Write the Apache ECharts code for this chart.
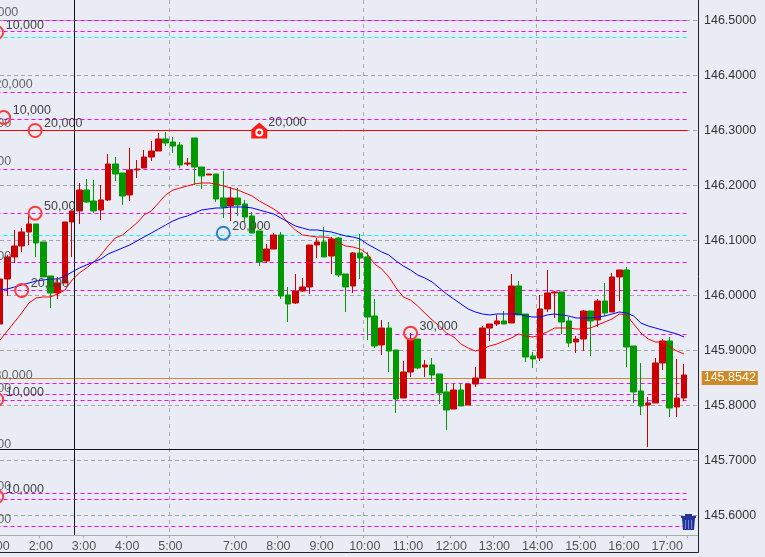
<!DOCTYPE html>
<html>
<head>
<meta charset="utf-8">
<title>chart</title>
<style>
html,body{margin:0;padding:0;background:#e9ecf4;overflow:hidden;}
#kline{width:765px;height:557px;}
</style>
<script src="https://cdn.jsdelivr.net/npm/echarts@6/dist/echarts.min.js"></script>
</head>
<body>
<div id="kline"></div>
<script>
// 10 minute bars
var categories = [
'1:00','1:10','1:20','1:30','1:40','1:50','2:00','2:10','2:20','2:30','2:40','2:50',
'3:00','3:10','3:20','3:30','3:40','3:50','4:00','4:10','4:20','4:30','4:40','4:50',
'5:00','5:10','5:20','5:30','5:40','5:50','6:10','6:20','6:30',
'7:00','7:10','7:20','7:30','7:40','7:50','8:00','8:10','8:20','8:30','8:40','8:50',
'9:00','9:10','9:20','9:30','9:40','9:50','10:00','10:10','10:20','10:30','10:40','10:50',
'11:00','11:10','11:20','11:30','11:40','11:50','12:00','12:10','12:20','12:30','12:40','12:50',
'13:00','13:10','13:20','13:30','13:40','13:50','14:00','14:10','14:20','14:30','14:40','14:50',
'15:00','15:10','15:20','15:30','15:40','15:50','16:00','16:10','16:20','16:30','16:40','16:50',
'17:00','17:10','17:20'];
var gridHours = ['5:00','10:00','14:00'];

var opens = [145.9482,146.0300,146.0701,146.0900,146.1155,146.1300,146.0973,146.0355,146.0046,146.0227,146.1337,146.1537,
146.1918,146.1718,146.1555,146.1737,146.2391,146.2228,146.1828,146.2282,146.2318,146.2518,146.2627,146.2846,
146.2791,146.2736,146.2391,146.2864,146.2336,146.2191,146.2209,146.1773,146.1627,146.1773,146.1664,146.1446,
146.1173,146.0628,146.0845,146.1100,146.0009,145.9864,146.0082,146.0155,146.0918,146.0973,146.0718,146.1045,
146.0391,146.0173,146.0773,146.0701,145.9627,145.9100,145.9409,145.9009,145.8137,145.8609,145.9209,145.8700,
145.8737,145.8573,145.8246,145.7936,145.8282,145.8009,145.8391,145.8500,145.9409,145.9482,145.9537,145.9500,
146.0173,145.9664,145.8900,145.8864,145.9755,146.0046,146.0064,145.9537,145.9155,145.9209,145.9718,145.9555,
145.9900,145.9700,146.0337,146.0464,145.9082,145.8264,145.8009,145.8046,145.8773,145.9173,145.7973,145.8137];
var closes = [146.0300,146.0701,146.0900,146.1155,146.1300,146.0955,146.0337,146.0046,146.0227,146.1337,146.1537,146.1918,
146.1700,146.1537,146.1737,146.2391,146.2209,146.1809,146.2282,146.2300,146.2518,146.2627,146.2846,146.2773,
146.2718,146.2373,146.2409,146.2336,146.2173,146.2209,146.1755,146.1609,146.1773,146.1646,146.1428,146.1136,
146.0610,146.0845,146.1100,145.9991,145.9846,146.0082,146.0155,146.0918,146.0973,146.0701,146.1027,146.0373,
146.0155,146.0773,146.0682,145.9609,145.9082,145.9409,145.8991,145.8118,145.8609,145.9209,145.8682,145.8737,
145.8555,145.8228,145.7918,145.8282,145.7991,145.8391,145.8500,145.9409,145.9482,145.9537,145.9482,146.0173,
145.9646,145.8882,145.8846,145.9755,146.0046,146.0064,145.9518,145.9136,145.9209,145.9718,145.9537,145.9900,
145.9682,146.0337,146.0464,145.9064,145.8246,145.7991,145.8046,145.8773,145.9173,145.7955,145.8137,145.8555];
var lows = [145.9482,145.9991,146.0591,146.0791,146.0918,146.0701,146.0337,145.9773,145.9937,146.0227,146.0701,146.1300,
146.1682,146.1500,146.1373,146.1718,146.2082,146.1646,146.1718,146.2136,146.2318,146.2446,146.2627,146.2718,
146.2591,146.2318,146.2355,146.2009,146.1937,146.2191,146.1700,146.1409,146.1355,146.1446,146.1337,146.1136,
146.0536,146.0591,146.0845,145.9937,145.9518,145.9846,146.0064,146.0028,146.0682,146.0701,146.0391,146.0337,
145.9700,146.0046,146.0300,145.9191,145.9046,145.8918,145.8609,145.7864,145.8137,145.8518,145.8664,145.8518,
145.8446,145.8027,145.7555,145.7936,145.7991,145.8009,145.8337,145.8500,145.9173,145.9446,145.9482,145.9500,
145.9646,145.8791,145.8682,145.8809,145.9700,145.9591,145.9300,145.9064,145.8955,145.8991,145.8900,145.9428,
145.9627,145.9700,145.9900,145.8700,145.8046,145.7827,145.7246,145.8046,145.8646,145.7791,145.7791,145.8082];
var highs = [146.0300,146.0737,146.1191,146.1227,146.1464,146.1300,146.0973,146.0355,146.0337,146.1337,146.1537,146.2046,
146.2118,146.2100,146.2009,146.2573,146.2518,146.2228,146.2682,146.2464,146.2646,146.2809,146.2955,146.2973,
146.2882,146.2791,146.2500,146.2864,146.2336,146.2209,146.2209,146.2264,146.1973,146.1955,146.1737,146.1518,
146.1173,146.0936,146.1136,146.1155,146.0155,146.0391,146.0318,146.0918,146.1045,146.1246,146.1064,146.1064,
146.0391,146.0791,146.1118,146.0791,145.9937,145.9555,145.9518,145.9009,145.8809,145.9318,145.9209,145.8827,
145.8864,145.8573,145.8391,145.8391,145.8391,145.8391,145.8700,145.9446,145.9482,145.9646,145.9718,146.0391,
146.0264,145.9664,145.8973,146.0009,146.0464,146.0082,146.0064,145.9609,145.9264,145.9737,145.9718,145.9937,
146.0227,146.0409,146.0464,146.0518,145.9082,145.8773,145.8155,145.8864,145.9209,145.9246,145.8846,145.8755];

var fastMa = [145.9191,145.9355,145.9518,145.9682,145.9864,145.9955,145.9973,145.9973,146.0028,146.0100,146.0282,146.0409,
146.0500,146.0610,146.0737,146.0900,146.1045,146.1100,146.1209,146.1318,146.1464,146.1537,146.1682,146.1828,
146.1918,146.1955,146.1991,146.2028,146.2046,146.2046,146.2028,146.1991,146.1955,146.1918,146.1864,146.1809,
146.1718,146.1646,146.1573,146.1482,146.1318,146.1191,146.1100,146.1082,146.1064,146.1064,146.1045,146.0955,
146.0900,146.0882,146.0845,146.0755,146.0573,146.0482,146.0337,146.0137,145.9973,145.9918,145.9809,145.9682,
145.9555,145.9446,145.9318,145.9246,145.9118,145.9046,145.8991,145.9028,145.9082,145.9118,145.9173,145.9227,
145.9300,145.9264,145.9246,145.9282,145.9337,145.9409,145.9409,145.9409,145.9391,145.9391,145.9409,145.9464,
145.9518,145.9573,145.9664,145.9646,145.9482,145.9318,145.9209,145.9155,145.9155,145.9064,145.8991,145.8937];
var slowMa = [146.0100,146.0118,146.0155,146.0191,146.0227,146.0264,146.0282,146.0300,146.0300,146.0355,146.0427,146.0500,
146.0555,146.0610,146.0664,146.0755,146.0809,146.0864,146.0918,146.0991,146.1064,146.1136,146.1209,146.1282,
146.1355,146.1409,146.1446,146.1500,146.1555,146.1573,146.1591,146.1591,146.1609,146.1609,146.1609,146.1591,
146.1555,146.1518,146.1482,146.1409,146.1337,146.1264,146.1227,146.1191,146.1191,146.1173,146.1155,146.1118,
146.1082,146.1064,146.1027,146.0936,146.0864,146.0791,146.0737,146.0628,146.0536,146.0464,146.0373,146.0318,
146.0246,146.0137,146.0028,145.9937,145.9846,145.9755,145.9700,145.9664,145.9646,145.9664,145.9664,145.9664,
145.9664,145.9627,145.9609,145.9609,145.9646,145.9664,145.9646,145.9627,145.9591,145.9591,145.9591,145.9609,
145.9627,145.9664,145.9700,145.9682,145.9627,145.9500,145.9446,145.9409,145.9373,145.9337,145.9300,145.9246];

var priceTicks = [146.5,146.4,146.3,146.2,146.1,146.0,145.9,145.8,145.7,145.6];
var axisTop = 146.53727;
var axisBottom = 145.56454;

// order levels
var magentaLevels = [146.5018,146.4782,146.3709,146.3236,146.2309,146.1491,146.0582,146.0091,145.9309,145.8436,145.8164,145.8109,145.7164,145.64,145.6345,145.58];
var cyanLevels = [146.4673,146.1127];
var redLevels = [146.30];
var lastPrice = 145.8545;
var lastPriceText = '145.8542';

// order marks
var sellCats = [0,1,5,5,3,57,0,0];
var sellPrices = [146.4782,146.3236,146.30,146.1496,146.0091,145.9315,145.8109,145.6345];
var sellTexts = ['10,000','10,000','20,000','50,000','20,000','30,000','10,000','10,000'];
var sellNudges = [-3.4,-3.6,-1,-1,0,0,-3.4,-3.4];
var buyCats = [31];
var buyPrices = [146.1133];
var buyTexts = ['20,000'];
var buyNudges = [0];
var alertCats = [36];
var alertPrices = [146.30];
var alertTexts = ['20,000'];
// labels of orders lying left of the visible window
var edgeCats = [1,3,0,0,3,0,0,0,0,0];
var edgePrices = [146.5145,146.3836,146.2436,146.0709,145.8551,145.8309,145.7291,145.6527,145.5927,146.3127];
var edgeTexts = ['10,000','20,000','10,000','10,000','30,000','10,000','10,000','10,000','10,000','10,000'];
var crossX = 74.5;
var crossPrice = 145.7182;

var textFont = {fontFamily:'"Liberation Sans"',fontSize:12.5};

function isHour(name){
    return /:00$/.test(name);
}
function pairs(a,b){
    return a.map(function(v,i){return [v,b[i]];});
}
function circleSeries(cats,prices,texts,nudges,color){
    return {
        type:'scatter',xAxisIndex:0,yAxisIndex:0,z:6,clip:false,silent:true,
        symbol:'circle',symbolSize:13,
        itemStyle:{color:'rgba(0,0,0,0)',borderColor:color,borderWidth:2,opacity:1},
        label:{show:true,position:'inside',align:'left',verticalAlign:'middle',offset:[9,-7],
            color:'#444',fontFamily:textFont.fontFamily,fontSize:textFont.fontSize,
            formatter:function(p){return texts[p.dataIndex];}},
        data:pairs(cats,prices).map(function(pt,i){
            return {value:pt,symbolOffset:[nudges[i],0]};
        })
    };
}
function levelLines(list,color,type){
    return list.map(function(v){
        return {yAxis:v,lineStyle:{color:color,type:type,width:1},label:{show:false}};
    });
}

function drawChart(){
    var chart = echarts.init(document.getElementById('kline'),null,{renderer:'canvas'});
    var candles = opens.map(function(o,i){return [o,closes[i],lows[i],highs[i]];});
    var lastLine = {yAxis:lastPrice,lineStyle:{color:'#cc8a33',type:'solid',width:1},
        label:{show:true,position:'end',distance:14,formatter:lastPriceText,color:'#fff',
            backgroundColor:'#d08a25',padding:[1,2,0,2],
            fontFamily:textFont.fontFamily,fontSize:textFont.fontSize}};
    var option = {
        animation:false,
        backgroundColor:'#e9ecf4',
        grid:[
            {left:-3.5,top:0,width:691.2,height:535,outerBoundsMode:'none'},
            {left:0,top:0,width:698,height:535,outerBoundsMode:'none'}
        ],
        xAxis:[
            {
                type:'category',gridIndex:0,data:categories,min:0,max:95,
                axisLine:{show:false},
                axisTick:{show:true,length:3,lineStyle:{color:'#aaa'},
                    interval:function(i,name){return isHour(name);}},
                axisLabel:{show:true,margin:5,color:'#555',padding:[0,5,0,0],
                    fontFamily:textFont.fontFamily,fontSize:textFont.fontSize,hideOverlap:false,
                    interval:function(i,name){return isHour(name);}},
                splitLine:{show:true,showMaxLine:false,lineStyle:{color:'#aaa',type:[4,4],width:1},
                    interval:function(i,name){return gridHours.indexOf(name)>=0;}}
            },
            {
                type:'value',gridIndex:1,min:0,max:698,
                axisLine:{show:true,lineStyle:{color:'#aaa',width:1}},
                axisTick:{show:false},axisLabel:{show:false},splitLine:{show:false}
            }
        ],
        yAxis:[
            {type:'value',gridIndex:0,min:axisBottom,max:axisTop,show:false,scale:true},
            {
                type:'value',gridIndex:1,min:axisBottom,max:axisTop,position:'right',scale:true,
                axisLine:{show:false},
                axisTick:{show:false,customValues:priceTicks},
                axisLabel:{show:true,margin:6,color:'#333',customValues:priceTicks,
                    fontFamily:textFont.fontFamily,fontSize:textFont.fontSize,
                    formatter:function(v){return v.toFixed(4);}},
                splitLine:{show:true,showMinLine:true,showMaxLine:true,lineStyle:{color:'#a5a5a5',type:[4,3],width:1}}
            }
        ],
        series:[
            {
                type:'candlestick',xAxisIndex:0,yAxisIndex:0,z:3,silent:true,barWidth:6,
                itemStyle:{color:'#cc0000',color0:'#009900',borderColor:'#cc0000',borderColor0:'#009900',borderWidth:1},
                data:candles,
                markLine:{
                    silent:true,symbol:'none',z:1,animation:false,
                    data:levelLines(magentaLevels,'#ff00ff',[4,3])
                        .concat(levelLines(cyanLevels,'#00ffff',[4,3]))
                        .concat(levelLines(redLevels,'#ff0000','solid'))
                        .concat([lastLine])
                }
            },
            {type:'line',xAxisIndex:0,yAxisIndex:0,z:4,silent:true,symbol:'none',data:fastMa,lineStyle:{color:'#ff0000',width:1}},
            {type:'line',xAxisIndex:0,yAxisIndex:0,z:4,silent:true,symbol:'none',data:slowMa,lineStyle:{color:'#0000ff',width:1}},
            circleSeries(sellCats,sellPrices,sellTexts,sellNudges,'#ff3b3b'),
            circleSeries(buyCats,buyPrices,buyTexts,buyNudges,'#2a80d2'),
            {
                type:'scatter',xAxisIndex:0,yAxisIndex:0,z:6,clip:false,silent:true,
                symbol:'path://M8 0 L16 7 V16 H0 V7 Z',symbolSize:[16,16],
                itemStyle:{color:'#ff1a1a',opacity:1},
                label:{show:true,position:'inside',align:'left',verticalAlign:'middle',offset:[9,-8],
                    color:'#444',fontFamily:textFont.fontFamily,fontSize:textFont.fontSize,
                    formatter:function(p){return alertTexts[p.dataIndex];}},
                data:pairs(alertCats,alertPrices)
            },
            {
                type:'scatter',xAxisIndex:0,yAxisIndex:0,z:7,clip:false,silent:true,
                symbol:'circle',symbolSize:6,symbolOffset:[0,2],
                itemStyle:{color:'#ff1a1a',borderColor:'#fff',borderWidth:2,opacity:1},
                data:pairs(alertCats,alertPrices)
            },
            {
                type:'scatter',xAxisIndex:0,yAxisIndex:0,z:5,clip:false,silent:true,
                symbol:'circle',symbolSize:1,
                itemStyle:{color:'rgba(0,0,0,0)'},
                label:{show:true,position:'inside',align:'right',verticalAlign:'middle',offset:[11,0],
                    color:'#444',fontFamily:textFont.fontFamily,fontSize:textFont.fontSize,
                    formatter:function(p){return edgeTexts[p.dataIndex];}},
                data:pairs(edgeCats,edgePrices)
            },
            {
                type:'line',xAxisIndex:1,yAxisIndex:1,z:8,silent:true,symbol:'none',data:[],
                markLine:{
                    silent:true,symbol:'none',z:8,animation:false,label:{show:false},
                    lineStyle:{color:'#111',type:'solid',width:1},
                    data:[{xAxis:crossX},{yAxis:crossPrice}]
                }
            }
        ],
        graphic:[
            {type:'polyline',silent:true,z:20,shape:{points:[[698.5,0],[698.5,552.5],[0,552.5]]},style:{stroke:'#222',lineWidth:1,fill:null}},
            // trash can
            {type:'rect',silent:true,z:20,shape:{x:681,y:516,width:15,height:2},style:{fill:'#26339a'}},
            {type:'rect',silent:true,z:20,shape:{x:685,y:514,width:7,height:2},style:{fill:'#26339a'}},
            {type:'polygon',silent:true,z:20,shape:{points:[[682,518],[695,518],[694,530],[683,530]]},style:{fill:'#26339a'}},
            {type:'rect',silent:true,z:21,shape:{x:685,y:520,width:1,height:9},style:{fill:'#7688de'}},
            {type:'rect',silent:true,z:21,shape:{x:688,y:520,width:1,height:9},style:{fill:'#7688de'}},
            {type:'rect',silent:true,z:21,shape:{x:691,y:520,width:1,height:9},style:{fill:'#7688de'}}
        ]
    };
    chart.setOption(option);
}
drawChart();
</script>
</body>
</html>
